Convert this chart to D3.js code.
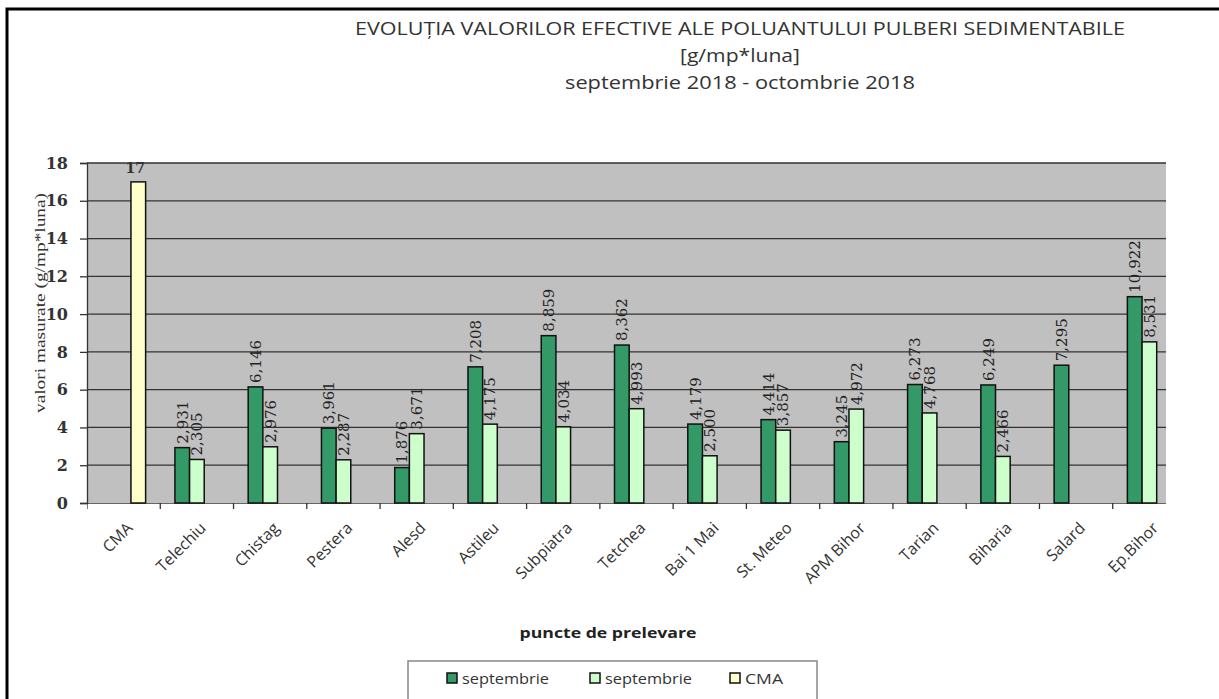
<!DOCTYPE html>
<html>
<head>
<meta charset="utf-8">
<script src="https://cdn.jsdelivr.net/npm/d3@7"></script>
<style>
  html, body { margin: 0; padding: 0; background: #fff; }
  svg { display: block; }
</style>
</head>
<body>
<svg id="chart" width="1219" height="699"></svg>
<script>
// ---------- DATA ----------
const categories = ["CMA","Telechiu","Chistag","Pestera","Alesd","Astileu","Subpiatra","Tetchea","Bai 1 Mai","St. Meteo","APM Bihor","Tarian","Biharia","Salard","Ep.Bihor"];
const seriesNames = ["septembrie","septembrie ","CMA"];
const legendLabels = ["septembrie","septembrie","CMA"];
const septValues = [null,2.931,6.146,3.961,1.876,7.208,8.859,8.362,4.179,4.414,3.245,6.273,6.249,7.295,10.922];
const octValues  = [null,2.305,2.976,2.287,3.671,4.175,4.034,4.993,2.500,3.857,4.972,4.768,2.466,null,8.531];
const cmaValues  = [17,null,null,null,null,null,null,null,null,null,null,null,null,null,null];
const yTicks = [0,2,4,6,8,10,12,14,16,18];
const titleLines = ["EVOLUȚIA VALORILOR  EFECTIVE ALE POLUANTULUI PULBERI SEDIMENTABILE","[g/mp*luna]","septembrie 2018 - octombrie  2018"];
const yTitle = "valori masurate (g/mp*luna)";
const xTitle = "puncte de prelevare";

// ---------- LAYOUT ----------
const svg = d3.select("#chart");
const colors = ["#339966","#CCFFCC","#FFFFCC"];
const plot = {left: 87, right: 1186, clipRight: 1166, top: 163, bottom: 503};

svg.append("path")
  .attr("d", `M7,${699+5} L7,9 L${1219+5},9`)
  .attr("fill","none").attr("stroke","#000").attr("stroke-width",3);

const titleY = [35, 62, 89];
const titleLen = [770, 120, 350];
titleLines.forEach((t,i) => {
  svg.append("text")
    .attr("x", 740).attr("y", titleY[i])
    .attr("text-anchor","middle")
    .attr("font-family","'Open Sans', sans-serif")
    .attr("font-size", 18)
    .attr("fill","#333")
    .attr("textLength", titleLen[i])
    .attr("lengthAdjust","spacingAndGlyphs")
    .text(t);
});

const x0 = d3.scaleBand().domain(categories).range([plot.left, plot.right]).padding(0);
const x1 = d3.scaleBand().domain(seriesNames).range([0, x0.bandwidth()]).paddingInner(0).paddingOuter(1);
const y = d3.scaleLinear().domain([0,18]).range([plot.bottom, plot.top]);

svg.append("clipPath").attr("id","pclip")
  .append("rect").attr("x", plot.left).attr("y", 0)
  .attr("width", plot.clipRight - plot.left).attr("height", plot.bottom + 20);

svg.append("rect")
  .attr("x", plot.left).attr("y", plot.top)
  .attr("width", plot.clipRight - plot.left).attr("height", plot.bottom - plot.top)
  .attr("fill","#C0C0C0");

svg.append("g").selectAll("line").data(yTicks.filter(d => d > 0)).join("line")
  .attr("x1", plot.left).attr("x2", plot.clipRight)
  .attr("y1", d => y(d)).attr("y2", d => y(d))
  .attr("stroke","#333").attr("stroke-width",1.3);

const yAxis = svg.append("g").attr("transform", `translate(${plot.left},0)`)
  .call(d3.axisLeft(y).tickValues(yTicks).tickSize(7).tickPadding(12).tickFormat(d3.format("d")));
yAxis.select(".domain").attr("stroke","#333").attr("stroke-width",1.3);
yAxis.selectAll(".tick line").attr("stroke","#333").attr("stroke-width",1.3);
yAxis.selectAll(".tick text")
  .attr("font-family","'DejaVu Serif', serif").attr("font-weight","bold")
  .attr("font-size",16).attr("fill","#333");

const xAxisG = svg.append("g").attr("transform", `translate(0,${plot.bottom})`).attr("clip-path","url(#pclip)");
xAxisG.append("line").attr("x1", plot.left).attr("x2", plot.clipRight).attr("y1",0).attr("y2",0)
  .attr("stroke","#333").attr("stroke-width",1.5);
xAxisG.selectAll("line.tk").data(categories).join("line").attr("class","tk")
  .attr("x1", d => x0(d)).attr("x2", d => x0(d)).attr("y1",0).attr("y2",6)
  .attr("stroke","#333").attr("stroke-width",1.3);

const xLab = svg.append("g").attr("class","xlabels");
categories.forEach(c => {
  const cx = x0(c) + x0.bandwidth()/2 + 10;
  const gg = xLab.append("g").attr("transform", "translate(" + cx + "," + (plot.bottom + 26) + ")");
  gg.append("text")
    .attr("x", 0).attr("y", 0)
    .attr("transform", "rotate(-45)")
    .style("text-anchor","end")
    .attr("font-family","'Open Sans', sans-serif")
    .attr("font-size",16)
    .attr("fill","#333")
    .text(c);
});

const allSeries = [septValues, octValues, cmaValues];
const barData = [];
categories.forEach((c,i) => {
  allSeries.forEach((vals,s) => {
    if (vals[i] != null) barData.push({cat:c, s, name: seriesNames[s], v: vals[i]});
  });
});
const barsG = svg.append("g").attr("clip-path","url(#pclip)");
barsG.selectAll("rect").data(barData).join("rect")
  .attr("x", d => x0(d.cat) + x1(d.name))
  .attr("y", d => y(d.v))
  .attr("width", x1.bandwidth())
  .attr("height", d => y(0) - y(d.v))
  .attr("fill", d => colors[d.s])
  .attr("stroke","#111").attr("stroke-width",1.5);

const fmt = v => d3.format(".3f")(v).replace(".", ",");
barsG.selectAll("text.vl").data(barData.filter(d => d.s < 2)).join("text").attr("class","vl")
  .attr("transform", d => `translate(${x0(d.cat) + x1(d.name) + x1.bandwidth()/2},${y(d.v) - 4}) rotate(-90)`)
  .attr("dy","0.36em")
  .attr("text-anchor","start")
  .attr("font-family","'DejaVu Serif', serif")
  .attr("font-size",15)
  .attr("fill","#222")
  .text(d => fmt(d.v));
svg.append("g").selectAll("text").data(barData.filter(d => d.s === 2)).join("text")
  .attr("x", d => x0(d.cat) + x1(d.name) + x1.bandwidth()/2 - 3)
  .attr("y", d => y(d.v) - 9)
  .attr("text-anchor","middle")
  .attr("font-family","'DejaVu Serif', serif").attr("font-weight","bold")
  .attr("font-size",14).attr("fill","#333")
  .text(d => d3.format("d")(d.v));

svg.append("text")
  .attr("transform", `translate(45,303) rotate(-90)`)
  .attr("text-anchor","middle")
  .attr("font-family","'Liberation Serif', serif")
  .attr("font-size",15).attr("fill","#333")
  .attr("textLength",220).attr("lengthAdjust","spacingAndGlyphs")
  .text(yTitle);
svg.append("text")
  .attr("x",608).attr("y",638)
  .attr("text-anchor","middle")
  .attr("font-family","'Open Sans', sans-serif").attr("font-weight","bold")
  .attr("font-size",15).attr("fill","#222")
  .attr("textLength",177).attr("lengthAdjust","spacingAndGlyphs")
  .text(xTitle);

const lg = svg.append("g");
lg.append("rect").attr("x",408).attr("y",661).attr("width",409).attr("height",60)
  .attr("fill","#fff").attr("stroke","#888").attr("stroke-width",1.5);
const legendX = [447, 590, 730];
const legendTextLen = [87, 87, 38];
legendLabels.forEach((t,i) => {
  lg.append("rect").attr("x", legendX[i]).attr("y", 673).attr("width",10).attr("height",10)
    .attr("fill", colors[i]).attr("stroke","#111").attr("stroke-width",1.5);
  lg.append("text").attr("x", legendX[i] + 15).attr("y", 684)
    .attr("font-family","'Open Sans', sans-serif").attr("font-size",14).attr("fill","#333")
    .attr("textLength", legendTextLen[i]).attr("lengthAdjust","spacingAndGlyphs")
    .text(t);
});
</script>
</body>
</html>
